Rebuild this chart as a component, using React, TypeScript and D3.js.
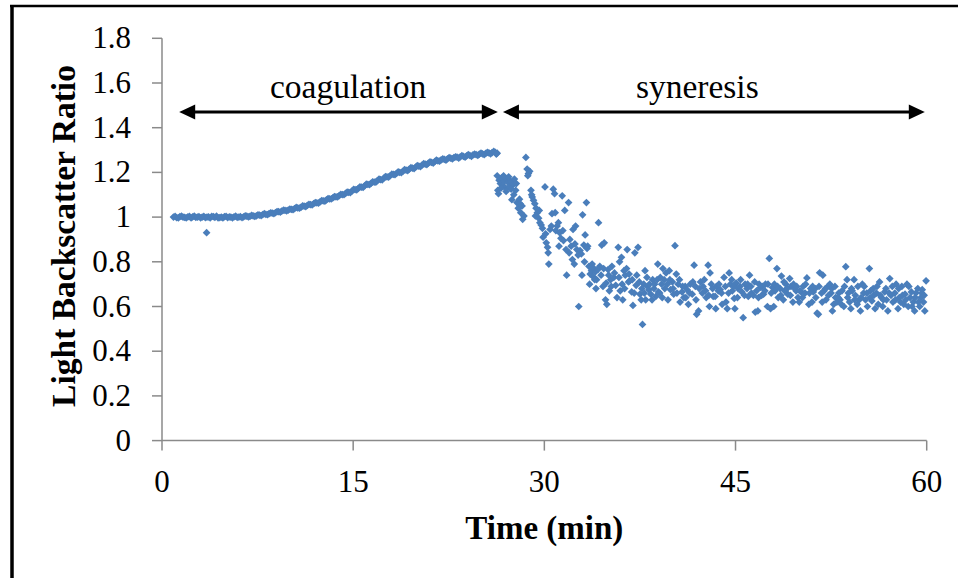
import React from "react";
import * as d3 from "d3";

// ---------- data ----------
const xTicks = [0, 15, 30, 45, 60];
const xTickLabels = ["0", "15", "30", "45", "60"];
const yTicks = [0, 0.2, 0.4, 0.6, 0.8, 1.0, 1.2, 1.4, 1.6, 1.8];
const yTickLabels = ["0", "0.2", "0.4", "0.6", "0.8", "1", "1.2", "1.4", "1.6", "1.8"];

// coagulation phase: [time (min), light backscatter ratio]
const coagulation: [number, number][] = [
  [0.9, 1.0], [1.15, 0.998], [1.4, 1.002], [1.65, 1.0], [1.9, 0.997], [2.15, 1.003], [2.4, 1.001],
  [2.65, 0.999], [2.9, 1.002], [3.15, 1.0], [3.4, 0.998], [3.5, 0.93], [3.65, 1.001], [3.9, 1.003],
  [4.15, 0.999], [4.4, 0.997], [4.65, 1.0], [4.9, 1.002], [5.15, 0.998], [5.4, 1.0], [5.65, 1.001],
  [5.9, 0.999], [6.15, 1.002], [6.4, 1.001], [6.65, 1.004], [6.9, 1.003], [7.15, 1.006], [7.4, 1.005],
  [7.65, 1.009], [7.9, 1.011], [8.15, 1.012], [8.4, 1.016], [8.65, 1.018], [8.9, 1.02], [9.15, 1.024],
  [9.4, 1.027], [9.65, 1.03], [9.9, 1.031], [10.15, 1.035], [10.4, 1.038], [10.65, 1.041], [10.9, 1.044],
  [11.15, 1.049], [11.4, 1.052], [11.65, 1.056], [11.9, 1.06], [12.15, 1.064], [12.4, 1.068],
  [12.65, 1.073], [12.9, 1.077], [13.15, 1.082], [13.4, 1.086], [13.65, 1.091], [13.9, 1.096],
  [14.15, 1.101], [14.4, 1.106], [14.65, 1.111], [14.9, 1.116], [15.15, 1.123], [15.4, 1.128],
  [15.65, 1.134], [15.9, 1.14], [16.15, 1.146], [16.4, 1.151], [16.65, 1.157], [16.9, 1.163],
  [17.15, 1.168], [17.4, 1.174], [17.65, 1.18], [17.9, 1.185], [18.15, 1.191], [18.4, 1.196],
  [18.65, 1.2], [18.9, 1.205], [19.15, 1.21], [19.4, 1.215], [19.65, 1.219], [19.9, 1.224],
  [20.15, 1.228], [20.4, 1.232], [20.65, 1.237], [20.9, 1.241], [21.15, 1.245], [21.4, 1.248],
  [21.65, 1.252], [21.9, 1.256], [22.15, 1.258], [22.4, 1.261], [22.65, 1.264], [22.9, 1.266],
  [23.15, 1.268], [23.4, 1.27], [23.65, 1.272], [23.9, 1.274], [24.15, 1.276], [24.4, 1.278],
  [24.65, 1.279], [24.9, 1.282], [25.15, 1.283], [25.4, 1.285], [25.65, 1.287], [25.9, 1.289],
  [26.15, 1.29], [26.3, 1.286],
  [1.03, 1.003], [1.28, 0.996], [1.53, 1.004], [1.78, 0.999], [2.03, 1.001], [2.28, 0.996], [2.53, 1.004],
  [2.78, 1.0], [3.03, 0.997], [3.28, 1.003], [3.53, 1.0], [3.78, 0.996], [4.03, 1.002], [4.28, 1.004],
  [4.53, 0.998], [4.78, 0.996], [5.03, 1.003], [5.28, 1.001], [5.53, 0.997], [5.78, 1.004], [6.03, 1.0],
  [6.28, 0.998], [6.53, 1.005], [6.78, 1.001], [7.03, 1.008], [7.28, 1.003], [7.53, 1.01], [7.78, 1.007],
  [8.03, 1.015], [8.28, 1.011], [8.53, 1.019], [8.78, 1.016], [9.03, 1.025], [9.28, 1.022], [9.53, 1.031],
  [9.78, 1.028], [10.03, 1.036], [10.28, 1.033], [10.53, 1.043], [10.78, 1.04], [11.03, 1.05], [11.28, 1.047],
  [11.53, 1.057], [11.78, 1.055], [12.03, 1.065], [12.28, 1.063], [12.53, 1.074], [12.78, 1.071],
  [13.03, 1.083], [13.28, 1.081], [13.53, 1.092], [13.78, 1.09], [14.03, 1.102], [14.28, 1.1],
  [14.53, 1.112], [14.78, 1.11], [15.03, 1.124], [15.28, 1.122], [15.53, 1.135], [15.78, 1.133],
  [16.03, 1.147], [16.28, 1.145], [16.53, 1.158], [16.78, 1.156], [17.03, 1.17], [17.28, 1.167],
  [17.53, 1.181], [17.78, 1.179], [18.03, 1.192], [18.28, 1.19], [18.53, 1.202], [18.78, 1.199],
  [19.03, 1.212], [19.28, 1.208], [19.53, 1.221], [19.78, 1.217], [20.03, 1.23], [20.28, 1.226],
  [20.53, 1.239], [20.78, 1.235], [21.03, 1.247], [21.28, 1.242], [21.53, 1.255], [21.78, 1.25],
  [22.03, 1.26], [22.28, 1.255], [22.53, 1.266], [22.78, 1.26], [23.03, 1.27], [23.28, 1.264],
  [23.53, 1.275], [23.78, 1.268], [24.03, 1.279], [24.28, 1.272], [24.53, 1.282], [24.78, 1.276],
  [25.03, 1.286], [25.28, 1.279], [25.53, 1.29], [25.78, 1.283], [26.03, 1.294], [26.23, 1.282],
];

// syneresis phase: [time (min), light backscatter ratio]
const syneresis: [number, number][] = [
  [26.3, 1.185], [26.35, 1.12], [26.45, 1.165], [26.55, 1.15], [26.65, 1.175], [26.75, 1.14], [26.85, 1.16], [26.95, 1.13],
  [27.05, 1.17], [27.15, 1.155], [27.25, 1.135], [27.35, 1.16], [27.45, 1.078], [27.55, 1.145], [27.65, 1.17], [27.75, 1.12], [27.85, 1.065], [27.95, 1.04],
  [28.05, 1.08], [28.15, 1.02], [28.25, 1.05], [28.4, 1.005], [28.55, 1.267], [28.65, 1.215], [28.75, 1.195], [28.85, 1.205], [28.95, 1.12],
  [29.05, 1.09], [29.15, 1.075], [29.25, 1.06], [29.35, 1.04], [29.45, 1.02], [29.55, 0.995], [29.65, 0.975], [29.75, 0.965], [29.9, 0.91],
  [30.05, 1.135], [30.15, 0.885], [30.25, 0.865], [30.35, 0.79], [30.45, 0.945], [30.6, 1.015], [30.7, 1.125], [30.8, 1.105], [30.9, 0.94],
  [31.0, 0.96], [31.1, 0.975], [31.2, 0.93], [31.3, 0.905], [31.4, 1.095], [31.5, 0.895], [31.6, 1.03], [31.75, 0.74], [31.9, 1.065], [31.95, 0.84],
  [32.1, 0.87], [32.25, 0.945], [32.35, 0.79], [32.45, 0.96], [32.55, 0.855], [32.7, 0.6], [32.8, 0.85], [32.9, 0.835], [33.0, 1.01],
  [33.1, 0.875], [33.2, 0.92], [33.3, 1.065], [33.4, 0.87], [33.5, 0.78], [33.6, 0.745], [33.7, 0.76], [33.8, 0.735], [33.9, 0.77],
  [34.0, 0.755], [34.1, 0.72], [34.25, 0.975], [34.35, 0.78], [34.5, 0.875], [34.6, 0.69], [34.7, 0.885], [34.8, 0.63], [34.9, 0.61],
  [35.0, 0.765], [35.1, 0.67], [35.2, 0.72], [35.3, 0.78], [35.45, 0.73], [35.6, 0.695], [35.8, 0.865], [35.9, 0.8], [35.95, 0.67],
  [36.05, 0.82], [36.15, 0.63], [36.25, 0.76], [36.35, 0.74], [36.5, 0.855], [36.6, 0.71], [36.7, 0.715], [36.85, 0.665], [36.95, 0.605],
  [37.1, 0.84], [37.2, 0.695], [37.35, 0.865], [37.5, 0.655], [37.6, 0.63], [37.7, 0.52], [37.8, 0.7], [37.9, 0.76], [37.95, 0.63],
  [38.1, 0.69], [38.2, 0.675], [38.35, 0.655], [38.5, 0.72], [38.6, 0.68], [38.75, 0.645], [38.9, 0.79], [38.95, 0.665],
  [39.1, 0.73], [39.2, 0.7], [39.3, 0.77], [39.4, 0.72], [39.55, 0.75], [39.7, 0.63], [39.8, 0.76], [39.9, 0.675],
  [40.05, 0.71], [40.15, 0.655], [40.25, 0.872], [40.35, 0.745], [40.5, 0.7], [40.65, 0.62], [40.8, 0.665], [40.95, 0.64],
  [41.05, 0.69], [41.2, 0.675], [41.3, 0.61], [41.45, 0.7], [41.6, 0.655], [41.75, 0.785], [41.85, 0.69], [41.95, 0.565],
  [42.1, 0.58], [42.25, 0.71], [42.4, 0.66], [42.55, 0.72], [42.7, 0.64], [42.85, 0.785], [42.95, 0.6],
  [43.0, 0.75], [43.1, 0.7], [43.25, 0.645], [43.4, 0.645], [43.5, 0.69], [43.65, 0.67], [43.8, 0.675], [43.95, 0.61],
  [44.1, 0.73], [44.25, 0.62], [44.35, 0.59], [44.5, 0.75], [44.6, 0.7], [44.75, 0.67], [44.9, 0.636], [44.95, 0.59],
  [45.05, 0.705], [45.2, 0.68], [45.35, 0.69], [45.5, 0.665], [45.6, 0.55], [45.75, 0.7], [45.9, 0.68], [46.0, 0.645],
  [46.1, 0.74], [46.25, 0.66], [46.4, 0.65], [46.55, 0.575], [46.65, 0.67], [46.75, 0.58], [46.85, 0.7], [46.95, 0.685],
  [47.1, 0.69], [47.2, 0.655], [47.35, 0.7], [47.5, 0.6], [47.65, 0.815], [47.75, 0.59], [47.9, 0.685], [48.0, 0.6],
  [48.1, 0.67], [48.25, 0.77], [48.35, 0.64], [48.5, 0.68], [48.6, 0.736], [48.75, 0.63], [48.85, 0.67], [48.95, 0.7],
  [49.1, 0.655], [49.25, 0.725], [49.35, 0.69], [49.5, 0.62], [49.65, 0.68], [49.75, 0.67], [49.9, 0.64],
  [50.0, 0.62], [50.15, 0.665], [50.3, 0.69], [50.45, 0.66], [50.6, 0.728], [50.75, 0.61], [50.9, 0.68], [51.0, 0.62],
  [51.1, 0.665], [51.25, 0.68], [51.4, 0.57], [51.5, 0.565], [51.6, 0.751], [51.75, 0.66], [51.85, 0.74], [51.95, 0.67],
  [52.1, 0.63], [52.25, 0.69], [52.4, 0.7], [52.5, 0.66], [52.6, 0.58], [52.7, 0.61], [52.85, 0.64], [52.95, 0.62],
  [53.1, 0.66], [53.2, 0.63], [53.35, 0.67], [53.5, 0.6], [53.65, 0.778], [53.75, 0.72], [53.85, 0.66], [53.95, 0.62],
  [54.05, 0.59], [54.15, 0.67], [54.3, 0.72], [54.4, 0.65], [54.55, 0.61], [54.7, 0.63], [54.8, 0.58], [54.95, 0.7],
  [55.05, 0.66], [55.2, 0.63], [55.35, 0.6], [55.5, 0.77], [55.6, 0.67], [55.7, 0.625], [55.85, 0.65], [55.95, 0.59],
  [56.05, 0.66], [56.2, 0.61], [56.3, 0.71], [56.45, 0.64], [56.55, 0.6], [56.7, 0.665], [56.85, 0.63], [56.95, 0.58],
  [57.1, 0.725], [57.2, 0.65], [57.35, 0.62], [57.5, 0.66], [57.6, 0.7], [57.75, 0.59], [57.85, 0.64], [57.95, 0.62],
  [58.05, 0.69], [58.2, 0.61], [58.3, 0.655], [58.45, 0.7], [58.55, 0.6], [58.7, 0.64], [58.8, 0.665], [58.95, 0.62],
  [59.05, 0.58], [59.15, 0.66], [59.3, 0.68], [59.45, 0.6], [59.55, 0.64], [59.65, 0.675], [59.75, 0.62], [59.85, 0.58], [59.95, 0.715],
  [26.4, 1.105], [26.6, 1.13], [26.8, 1.185], [27.0, 1.115], [27.2, 1.18], [27.4, 1.125], [27.6, 1.1], [27.8, 1.15],
  [28.1, 1.06], [28.3, 0.99], [28.7, 1.185], [29.0, 1.1], [29.3, 1.005], [29.6, 1.03], [29.85, 0.95],
  [30.1, 0.925], [30.3, 0.84], [30.55, 0.96], [30.85, 1.02], [31.15, 0.87], [31.45, 0.94], [31.7, 0.855], [32.0, 0.9],
  [32.2, 0.81], [32.4, 0.88], [32.65, 0.83], [32.95, 0.74], [33.15, 0.8], [33.35, 0.86], [33.55, 0.7], [33.75, 0.79], [33.95, 0.72],
  [34.05, 0.68], [34.2, 0.765], [34.45, 0.74], [34.65, 0.77], [34.85, 0.705], [35.05, 0.74], [35.25, 0.69], [35.5, 0.75], [35.7, 0.64], [35.85, 0.73],
  [36.1, 0.7], [36.3, 0.68], [36.45, 0.77], [36.65, 0.745], [36.9, 0.72], [37.05, 0.66], [37.25, 0.74], [37.45, 0.71], [37.65, 0.68], [37.85, 0.66],
  [38.05, 0.73], [38.25, 0.7], [38.45, 0.63], [38.65, 0.7], [38.85, 0.72], [39.05, 0.66], [39.25, 0.64], [39.45, 0.68], [39.65, 0.7], [39.85, 0.72],
  [40.1, 0.68], [40.4, 0.66], [40.6, 0.72], [40.85, 0.69], [41.1, 0.64], [41.4, 0.66], [41.65, 0.71], [41.9, 0.63],
  [42.15, 0.68], [42.45, 0.69], [42.65, 0.67], [42.9, 0.65], [43.2, 0.68], [43.45, 0.59], [43.7, 0.7], [43.9, 0.66],
  [44.2, 0.69], [44.45, 0.66], [44.7, 0.72], [44.85, 0.69], [45.15, 0.64], [45.4, 0.72], [45.7, 0.65], [45.95, 0.7],
  [46.2, 0.69], [46.5, 0.71], [46.8, 0.64], [47.05, 0.65], [47.3, 0.67], [47.55, 0.7], [47.8, 0.66], [48.05, 0.7],
  [48.3, 0.69], [48.55, 0.65], [48.8, 0.71], [49.05, 0.68], [49.3, 0.65], [49.55, 0.7], [49.8, 0.69], [50.05, 0.67],
  [50.25, 0.64], [50.5, 0.7], [50.8, 0.66], [51.05, 0.69], [51.3, 0.64], [51.55, 0.69], [51.8, 0.62], [52.05, 0.68],
  [52.3, 0.65], [52.55, 0.68], [52.8, 0.69], [53.05, 0.64], [53.3, 0.61], [53.55, 0.69], [53.8, 0.64], [54.1, 0.68],
  [54.35, 0.63], [54.6, 0.69], [54.85, 0.64], [55.1, 0.69], [55.3, 0.66], [55.55, 0.64], [55.8, 0.68], [56.1, 0.69],
  [56.35, 0.65], [56.6, 0.63], [56.8, 0.68], [57.05, 0.66], [57.3, 0.69], [57.55, 0.63], [57.8, 0.68], [58.1, 0.65],
  [58.35, 0.63], [58.6, 0.69], [58.85, 0.6], [59.1, 0.64], [59.35, 0.62], [59.6, 0.66], [59.8, 0.65],
];

// phase annotations
const phaseLabels = ["coagulation", "syneresis"];
const phaseStart = [1.35, 26.75];
const phaseEnd = [26.35, 59.85];
const phaseLabelX = [14.6, 42.0];
const phaseArrowY = 1.47;

const xTitle = "Time (min)";
const yTitle = "Light Backscatter Ratio";

// ---------- component ----------
export default function App() {
  const W = 958;
  const H = 578;
  const left = 162;
  const right = 926.7;
  const top = 38.3;
  const bottom = 440.6;

  const x = d3.scaleLinear().domain([0, 60]).range([left, right]);
  const y = d3.scaleLinear().domain([0, 1.8]).range([bottom, top]);

  const diamond = d3.symbol().type(d3.symbolSquare).size(30)() as string;
  const points = [...coagulation, ...syneresis];

  const axisColor = "#8a8a8a";
  const serif = "'Liberation Serif', 'Times New Roman', serif";
  const headLen = 16;
  const headHalf = 7.5;

  return (
    <svg
      width={W}
      height={H}
      style={{ position: "absolute", left: 0, top: 0, background: "#ffffff" }}
    >
      <rect x={0} y={0} width={W} height={H} fill="#ffffff" />
      {/* frame (top and left edges) */}
      <line x1={10} y1={6} x2={W} y2={6} stroke="#000" strokeWidth={2.5} />
      <line x1={12} y1={5} x2={12} y2={H} stroke="#000" strokeWidth={3.5} />

      {/* axes */}
      <line x1={left} y1={top} x2={left} y2={bottom} stroke={axisColor} strokeWidth={1.5} />
      <line x1={left} y1={bottom} x2={right} y2={bottom} stroke={axisColor} strokeWidth={1.5} />
      {yTicks.map((v, i) => (
        <g key={"yt" + i}>
          <line x1={left - 10} x2={left} y1={y(v)} y2={y(v)} stroke={axisColor} strokeWidth={1.5} />
          <text
            x={131}
            y={y(v) + 10}
            textAnchor="end"
            fontFamily={serif}
            fontSize={31}
            fill="#000"
          >
            {yTickLabels[i]}
          </text>
        </g>
      ))}
      {xTicks.map((v, i) => (
        <g key={"xt" + i}>
          <line x1={x(v)} x2={x(v)} y1={bottom} y2={bottom + 10} stroke={axisColor} strokeWidth={1.5} />
          <text
            x={x(v)}
            y={492}
            textAnchor="middle"
            fontFamily={serif}
            fontSize={31}
            fill="#000"
          >
            {xTickLabels[i]}
          </text>
        </g>
      ))}

      {/* axis titles */}
      <text
        x={(left + right) / 2}
        y={539}
        textAnchor="middle"
        fontFamily={serif}
        fontWeight="bold"
        fontSize={33}
        fill="#000"
      >
        {xTitle}
      </text>
      <text
        transform={`translate(75, 236) rotate(-90)`}
        textAnchor="middle"
        fontFamily={serif}
        fontWeight="bold"
        fontSize={33.5}
        fill="#000"
      >
        {yTitle}
      </text>

      {/* phase arrows */}
      {phaseLabels.map((lab, i) => {
        const x1 = x(phaseStart[i]);
        const x2 = x(phaseEnd[i]);
        const yy = y(phaseArrowY);
        return (
          <g key={"ph" + i}>
            <line x1={x1 + headLen - 2} x2={x2 - headLen + 2} y1={yy} y2={yy} stroke="#000" strokeWidth={3} />
            <path
              d={`M${x1},${yy} L${x1 + headLen},${yy - headHalf} L${x1 + headLen},${yy + headHalf} Z`}
              fill="#000"
            />
            <path
              d={`M${x2},${yy} L${x2 - headLen},${yy - headHalf} L${x2 - headLen},${yy + headHalf} Z`}
              fill="#000"
            />
            <text
              x={x(phaseLabelX[i])}
              y={yy - 14}
              textAnchor="middle"
              fontFamily={serif}
              fontSize={33.5}
              fill="#000"
            >
              {lab}
            </text>
          </g>
        );
      })}

      {/* data points */}
      {points.map((p, i) => (
        <path
          key={"pt" + i}
          d={diamond}
          transform={`translate(${x(p[0])},${y(p[1])}) rotate(45)`}
          fill="#4a7ebb"
        />
      ))}
    </svg>
  );
}
